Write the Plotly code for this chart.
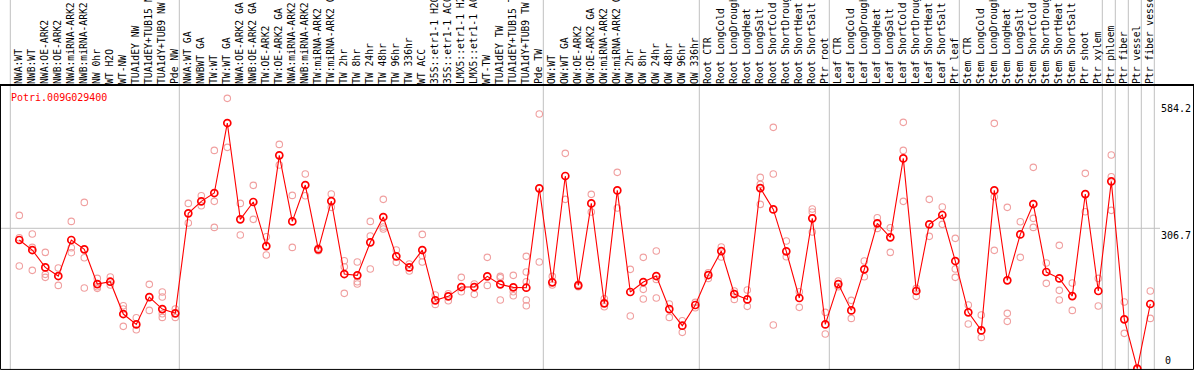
import plotly.graph_objects as go

labels = [
    "NWA:WT", "NWB:WT", "NWA:OE-ARK2", "NWB:OE-ARK2", "NWA:miRNA-ARK2", "NWB:miRNA-ARK2",
    "NW 0hr", "WT H2O", "WT-NW", "TUA1dEY NW", "TUA1dEY+TUB15 NW", "TUA1dY+TUB9 NW", "Pde NW",
    "NWA:WT GA", "NWBWT GA", "TW:WT", "TW:WT GA", "NWA:OE-ARK2 GA", "NWB:OE-ARK2 GA",
    "TW:OE-ARK2", "TW:OE-ARK2 GA", "NWA:miRNA-ARK2 GA", "NWB:miRNA-ARK2 GA", "TW:miRNA-ARK2",
    "TW:miRNA-ARK2 GA", "TW 2hr", "TW 8hr", "TW 24hr", "TW 48hr", "TW 96hr", "TW 336hr", "WT ACC",
    "35S::etr1-1 H2O", "35S::etr1-1 ACC", "LMX5::etr1-1 H2O", "LMX5::etr1-1 ACC", "WT-TW",
    "TUA1dEY TW", "TUA1dEY+TUB15 TW", "TUA1dY+TUB9 TW", "Pde TW",
    "OW:WT", "OW:WT GA", "OW:OE-ARK2", "OW:OE-ARK2 GA", "OW:miRNA-ARK2", "OW:miRNA-ARK2 GA",
    "OW 2hr", "OW 8hr", "OW 24hr", "OW 48hr", "OW 96hr", "OW 336hr",
    "Root CTR", "Root LongCold", "Root LongDrought", "Root LongHeat", "Root LongSalt",
    "Root ShortCold", "Root ShortDrought", "Root ShortHeat", "Root ShortSalt", "Ptr root",
    "Leaf CTR", "Leaf LongCold", "Leaf LongDrought", "Leaf LongHeat", "Leaf LongSalt",
    "Leaf ShortCold", "Leaf ShortDrought", "Leaf ShortHeat", "Leaf ShortSalt", "Ptr leaf",
    "Stem CTR", "Stem LongCold", "Stem LongDrought", "Stem LongHeat", "Stem LongSalt",
    "Stem ShortCold", "Stem ShortDrought", "Stem ShortHeat", "Stem ShortSalt", "Ptr shoot", "Ptr xylem",
    "Ptr phloem", "Ptr fiber", "Ptr vessel", "Ptr fiber vessel",
]

means = [
    281.1, 259.2, 221.3, 202.4, 281.1, 260.7, 184.9, 190.0, 119.4, 96.8, 156.5, 130.3, 120.9,
    339.3, 365.5, 383.7, 536.6, 326.2, 364.1, 267.9, 466.0, 321.8, 401.2, 260.7, 366.2, 206.8,
    203.9, 276.0, 331.3, 245.4, 221.3, 259.2, 149.3, 158.0, 178.4, 178.4, 201.7, 184.2, 177.7,
    176.9, 393.9,
    188.6, 420.9, 182.0, 361.1, 142.7, 389.5, 167.5, 189.3, 202.4, 130.3, 93.9, 139.1,
    204.6, 257.0, 163.1, 151.4, 394.6, 348.0, 256.3, 154.4, 328.4, 96.8,
    184.9, 127.4, 217.0, 317.5, 286.9, 459.4, 169.7, 315.3, 335.7, 235.2,
    123.1, 83.7, 389.5, 193.0, 293.4, 359.7, 211.2, 197.3, 158.7, 381.5, 169.7,
    409.2, 107.8, 0.0, 141.3,
]

replicates = [
    [334.9, 286.2, 224.3], [294.2, 265.0, 214.8], [254.1, 206.1, 199.5], [219.9, 182.0],
    [321.8, 264.3, 253.4], [363.3, 242.5, 176.2], [197.3, 179.1, 175.5], [200.2, 182.8],
    [137.6, 130.3, 92.5], [111.4, 85.2], [184.2, 127.4], [167.5, 156.5, 120.1, 112.1],
    [130.3, 112.1],
    [361.1, 318.2], [377.9, 356.1], [476.9, 365.5, 308.7], [590.5, 483.5], [361.1, 292.0],
    [400.5, 326.2], [288.3, 248.3], [490.0, 444.9], [378.6, 265.0], [425.2, 377.9],
    [263.5, 257.8], [381.5, 352.4], [235.9, 222.8, 164.6], [233.0, 190.0, 184.9],
    [321.8, 289.8, 217.7], [369.9, 309.5, 305.1], [259.2, 232.3], [228.6, 213.3],
    [293.4, 246.8, 233.0], [160.9, 140.5], [163.8, 148.5], [199.5, 168.2], [184.9, 162.4],
    [243.2, 182.0], [201.7, 198.8, 150.0], [203.9, 168.2, 159.5],
    [245.4, 211.2, 190.0, 150.0, 137.6], [556.3, 233.0],
    [201.7, 182.8], [470.4, 369.9], [184.2, 179.1], [380.8, 342.2], [152.9, 135.4],
    [428.9, 351.0], [217.0, 115.0], [243.2, 173.3, 152.2], [257.0, 195.1, 154.4],
    [141.3, 112.1], [104.9, 79.4], [144.9, 133.2],
    [209.7, 197.3], [265.8, 243.9], [169.7, 151.4], [171.8, 136.2], [417.9, 402.7, 359.0],
    [527.2, 425.2, 95.4], [278.9, 244.6], [168.2, 134.0], [348.8, 342.2, 298.5], [123.1, 75.7],
    [191.5, 179.1], [149.3, 109.9], [235.2, 201.0], [329.8, 306.5], [308.0, 254.1],
    [538.1, 476.9, 365.5], [175.5, 158.0], [369.9, 289.1], [353.1, 315.3],
    [284.7, 217.7, 199.5],
    [139.1, 97.6], [117.2, 68.4], [535.9, 375.7, 258.5], [352.4, 120.9, 103.4],
    [321.1, 243.2], [439.8, 328.4, 308.7], [230.8, 186.4], [269.4, 171.1, 150.0],
    [187.1, 127.4], [426.7, 342.9], [197.3, 136.9],
    [466.7, 419.4, 345.9], [145.6, 77.2], [0.0], [169.7, 109.9],
]

group_starts = [0, 13, 41, 53, 63, 73, 84, 85, 86, 87, 88]
axis_labels = [584.2, 306.7, 0]
gene = "Potri.009G029400"

W, H = 1194, 370
TOP = 85
FONT = "DejaVu Sans Mono"

xs = list(range(len(labels)))
rx, ry = [], []
for i, reps in enumerate(replicates):
    for v in reps:
        rx.append(i)
        ry.append(v)

fig = go.Figure()
fig.add_trace(go.Scatter(
    x=rx, y=ry, mode="markers", hoverinfo="skip", cliponaxis=False,
    marker=dict(symbol="circle-open", size=6.5, color="rgb(240,160,160)", line=dict(width=1.1)),
))
fig.add_trace(go.Scatter(
    x=xs, y=means, mode="lines+markers", cliponaxis=False,
    line=dict(color="rgb(255,0,0)", width=1.1),
    marker=dict(symbol="circle-open", size=7, color="rgb(255,0,0)", line=dict(width=1.7)),
))

# pixel mapping: category i centre at 19.3 + 13*i ; value v at 368.7 - 0.4578*v
x_lo = (0 - 19.3) / 13.0
x_hi = (W - 19.3) / 13.0
y_lo = (368.7 - H) / 0.4578
y_hi = (368.7 - TOP) / 0.4578

shapes = []
for b in group_starts:
    shapes.append(dict(type="line", xref="x", yref="paper", x0=b - 9 / 13, x1=b - 9 / 13,
                       y0=0, y1=1.32, line=dict(color="rgb(192,192,192)", width=1), layer="below"))
shapes.append(dict(type="line", xref="paper", yref="y", x0=0, x1=1160 / W,
                   y0=axis_labels[1], y1=axis_labels[1],
                   line=dict(color="rgb(192,192,192)", width=1), layer="below"))
shapes.append(dict(type="rect", xref="paper", yref="paper", x0=0.0004, x1=0.9996, y0=0.002, y1=1,
                   line=dict(color="black", width=1)))
shapes.append(dict(type="line", xref="paper", yref="paper", x0=0, x1=1, y0=1.0, y1=1.0,
                   line=dict(color="black", width=2)))

annotations = [dict(text=gene, xref="paper", yref="paper", x=9 / W, y=(H - 97) / (H - TOP),
                    xanchor="left", yanchor="middle", showarrow=False,
                    font=dict(family=FONT, size=10, color="rgb(255,0,0)"))]
for v in axis_labels:
    if v == 0:
        annotations.append(dict(text="%g" % v, xref="paper", yref="y", x=1163 / W, y=v,
                                xanchor="left", yanchor="bottom", showarrow=False, yshift=1,
                                font=dict(family=FONT, size=10, color="black")))
    else:
        annotations.append(dict(text="%g" % v, xref="paper", yref="y", x=1.0, y=v,
                                xanchor="right", yanchor="top", showarrow=False, xshift=-1,
                                font=dict(family=FONT, size=10, color="black")))

fig.update_layout(
    width=W, height=H, margin=dict(l=0, r=0, t=TOP, b=0, pad=0),
    paper_bgcolor="white", plot_bgcolor="white", showlegend=False,
    shapes=shapes, annotations=annotations,
    xaxis=dict(side="top", range=[x_lo, x_hi], tickmode="array", tickvals=xs, ticktext=labels,
               tickangle=-90, ticks="", showgrid=False, zeroline=False, showline=False,
               automargin=False,
               tickfont=dict(family=FONT, size=9.7, color="black"), ticklabelstandoff=0),
    yaxis=dict(range=[y_lo, y_hi], showgrid=False, zeroline=False, showticklabels=False,
               showline=False, ticks="", automargin=False),
)

fig.write_html("out.html", config={"displayModeBar": False},
               post_script="document.body.style.margin='0';document.body.style.padding='0';")
